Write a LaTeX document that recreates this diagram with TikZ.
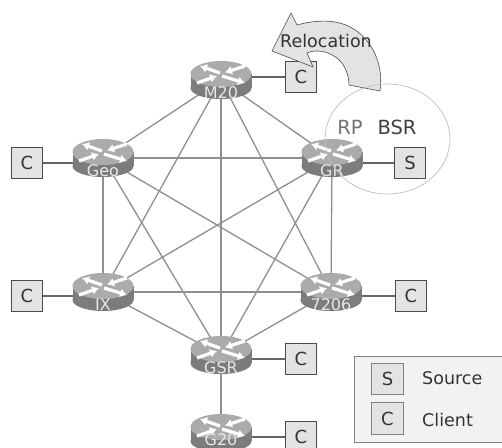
\documentclass[tikz,border=0pt]{standalone}
\usepackage{fontspec}
\setmainfont{DejaVu Sans}
\usetikzlibrary{arrows.meta}
\definecolor{boxfill}{HTML}{E3E3E3}
\definecolor{boxline}{HTML}{4A4A4A}
\definecolor{meshline}{HTML}{8F8F8F}
\definecolor{stubline}{HTML}{666666}
\definecolor{routertop}{HTML}{ABABAB}
\definecolor{routerside}{HTML}{7C7C7C}
\definecolor{routerlabel}{HTML}{E6E6E6}
\definecolor{textdark}{HTML}{333333}
\tikzset{
  anchorpt/.style={inner sep=0pt,minimum width=61pt,minimum height=38pt},
  endbox/.style={draw=boxline,fill=boxfill,line width=0.7pt,minimum size=31.5pt,inner sep=0pt,text=textdark,font=\fontsize{18}{20}\selectfont},
  mesh/.style={draw=meshline,line width=1.3pt},
  stub/.style={draw=stubline,line width=1.1pt},
  routerarrow/.style={draw=white,line width=3.2pt,-{Latex[length=7pt,width=9pt]}},
}
\newcommand{\routerbody}[3]{%
  \begin{scope}[shift={(#1.center)}]
    \fill[routerside] (-30.5,-6) rectangle (30.5,8);
    \fill[routerside] (0,8) ellipse [x radius=30.5,y radius=11];
    \fill[routertop] (0,-6) ellipse [x radius=30.5,y radius=13];
    \draw[routerarrow] (-1,-7) -- (-21,-14);
    \draw[routerarrow] (24,-14) -- (4,-7.5);
    \draw[routerarrow] (1,-4) -- (24,3);
    \draw[routerarrow] (-24,3) -- (-4,-4);
    \node[text=routerlabel,font=\fontsize{16}{18}\selectfont,inner sep=0pt] (#1label) at (0,#3) {#2};
  \end{scope}}
\begin{document}
\begin{tikzpicture}[x=1pt,y=-1pt]
  \clip (0,0) rectangle (502,447);
  \fill[white] (0,0) rectangle (502,447);
  % router anchors
  \node[anchorpt] (M20) at (221,80) {};
  \node[anchorpt] (Geo) at (103,158) {};
  \node[anchorpt] (GR) at (332,158) {};
  \node[anchorpt] (IX) at (103,292) {};
  \node[anchorpt] (R7206) at (331,292) {};
  \node[anchorpt] (GSR) at (221,355) {};
  \node[anchorpt] (G20) at (221,433) {};
  % end-station boxes
  \node[endbox] (cM) at (301,77) {C};
  \node[endbox] (sGR) at (410,163) {S};
  \node[endbox] (cGeo) at (27,163) {C};
  \node[endbox] (cIX) at (27,296) {C};
  \node[endbox] (c7206) at (411,296) {C};
  \node[endbox] (cGSR) at (301,359) {C};
  \node[endbox] (cG20) at (301,437) {C};
  % mesh
  \foreach \a/\b in {M20/Geo,M20/GR,M20/IX,M20/R7206,M20/GSR,Geo/GR,Geo/IX,Geo/R7206,Geo/GSR,GR/IX,GR/R7206,GR/GSR,IX/R7206,IX/GSR,R7206/GSR,GSR/G20}
    \draw[mesh] (\a.center) -- (\b.center);
  % stubs
  \draw[stub] (M20.center |- cM) -- (cM);
  \draw[stub] (GR.center |- sGR) -- (sGR);
  \draw[stub] (Geo.center |- cGeo) -- (cGeo);
  \draw[stub] (IX.center |- cIX) -- (cIX);
  \draw[stub] (R7206.center |- c7206) -- (c7206);
  \draw[stub] (GSR.center |- cGSR) -- (cGSR);
  \draw[stub] (G20.center |- cG20) -- (cG20);
  % routers
  \routerbody{M20}{M20}{12.5}
  \routerbody{Geo}{Geo}{12.5}
  \routerbody{GR}{GR}{12.5}
  \routerbody{IX}{IX}{12.5}
  \routerbody{R7206}{7206}{12.5}
  \routerbody{GSR}{GSR}{12.5}
  \routerbody{G20}{G20}{7}
  % relocation arrow
  \draw[draw=black!70,line width=0.6pt,fill=boxfill]
    (291,13) -- (297,25) .. controls (315,20) and (335,19) .. (350,27)
    .. controls (372,38) and (384,65) .. (380,91)
    -- (349,85) .. controls (349,73) and (343,60) .. (332,55)
    .. controls (323,50) and (314,50) .. (307,53)
    -- (313,67) -- (272,51) -- cycle;
  % BSR circle
  \draw[draw=black!25,line width=0.7pt] (387.5,139) ellipse [x radius=62.5,y radius=55];
  \node[text=black!55,font=\fontsize{19.5}{22}\selectfont,inner sep=0pt] (rp) at (350,127) {RP};
  \node[text=black!75,font=\fontsize{19.5}{22}\selectfont,inner sep=0pt] (bsr) at (397,127) {BSR};
  \node[text=textdark,font=\fontsize{17.5}{20}\selectfont,inner sep=0pt] (reloc) at (326,41) {Relocation};
  % legend
  \node[draw=black!50,fill=black!5,line width=0.8pt,minimum width=148pt,minimum height=86pt,inner sep=0pt] (legend) at (428,399) {};
  \node[endbox,draw=black!50] (legS) at (387.5,379) {S};
  \node[endbox,draw=black!50] (legC) at (387.5,418.5) {C};
  \node[text=textdark,font=\fontsize{17.5}{20}\selectfont,anchor=west,inner sep=0pt] (legSt) at (422,378) {Source};
  \node[text=textdark,font=\fontsize{17.5}{20}\selectfont,anchor=west,inner sep=0pt] (legCt) at (422,420) {Client};
\end{tikzpicture}
\end{document}
